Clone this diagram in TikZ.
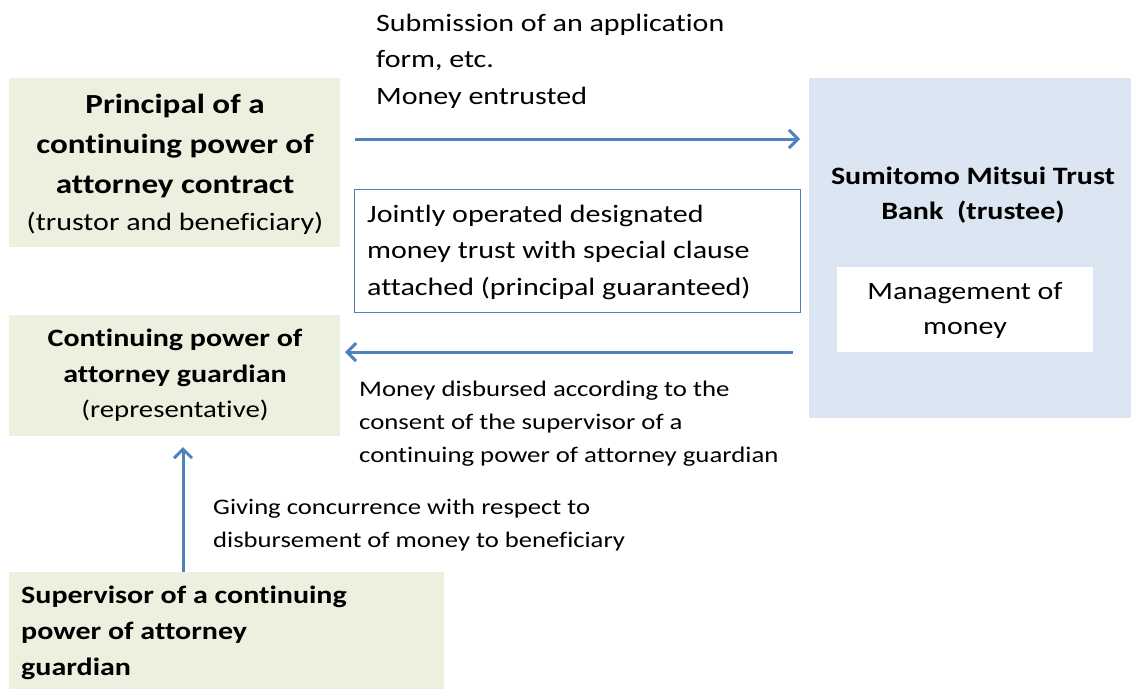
\documentclass[tikz,border=0pt]{standalone}
\usepackage{fontspec}
\setmainfont{Carlito}[FakeStretch=1.2, Ligatures={NoCommon}]
\usetikzlibrary{arrows.meta}
\definecolor{greenbg}{HTML}{EBF1DE}
\definecolor{bluebg}{HTML}{DCE6F2}
\definecolor{arrowblue}{HTML}{4F81BD}
\tikzset{
  greenbox/.style={fill=greenbg, draw=none, anchor=north west, inner sep=0pt},
  bluebox/.style={fill=bluebg, draw=none, anchor=north west, inner sep=0pt},
  whitebox/.style={fill=white, draw=none, anchor=north west, inner sep=0pt},
  framebox/.style={fill=white, draw=arrowblue, line width=1.2pt, anchor=north west, inner sep=0pt},
  flow/.style={draw=arrowblue, line width=3pt, -{Straight Barb[length=9pt,width=18pt,line width=3pt]}},
  txt/.style={inner sep=0pt, text=black},
}
\begin{document}
\begin{tikzpicture}[x=1pt,y=-1pt]
\useasboundingbox (0,0) rectangle (1131,688);
% boxes
\node[greenbox, minimum width=331pt, minimum height=169pt] (princ) at (9,78) {};
\node[greenbox, minimum width=331pt, minimum height=121pt] (guard) at (9,315) {};
\node[greenbox, minimum width=435pt, minimum height=120pt] (sup) at (9,572) {};
\node[bluebox, minimum width=322pt, minimum height=340pt] (bank) at (809,78) {};
\node[whitebox, minimum width=256pt, minimum height=85pt] (mgmt) at (837,267) {};
\node[framebox, minimum width=446pt, minimum height=123pt] (joint) at (354,189) {};
% texts
\node[txt, align=center, font=\fontsize{27.6}{40}\selectfont\bfseries] (princt) at (175,146)
  {Principal of a\\continuing power of\\attorney contract};
\node[txt, font=\fontsize{25}{30}\selectfont] (princs) at (175,223) {(trustor and beneficiary)};
\node[txt, align=center, font=\fontsize{25}{36}\selectfont\bfseries] (guardt) at (175,358)
  {Continuing power of\\attorney guardian};
\node[txt, font=\fontsize{24}{30}\selectfont] (guards) at (175,411) {(representative)};
\node[txt, align=left, anchor=west, font=\fontsize{25}{36}\selectfont\bfseries] (supt) at (21,633)
  {Supervisor of a continuing\\power of attorney\\guardian};
\node[txt, align=center, font=\fontsize{25}{35}\selectfont\bfseries] (bankt) at (973,195)
  {Sumitomo Mitsui Trust\\Bank\ \ (trustee)};
\node[txt, align=center, font=\fontsize{25}{35}\selectfont] (mgmtt) at (965,310)
  {Management of\\money};
\node[txt, align=left, anchor=west, font=\fontsize{25}{36.5}\selectfont] (jointt) at (367,252)
  {Jointly operated designated\\money trust with special clause\\attached (principal guaranteed)};
\node[txt, align=left, anchor=west, font=\fontsize{25}{36.5}\selectfont] (subt) at (376,61)
  {Submission of an application\\form, etc.\\Money entrusted};
\node[txt, align=left, anchor=west, font=\fontsize{22.3}{33}\selectfont] (disbt) at (359,424)
  {Money disbursed according to the\\consent of the supervisor of a\\continuing power of attorney guardian};
\node[txt, align=left, anchor=west, font=\fontsize{22.2}{33}\selectfont] (givt) at (213,525)
  {Giving concurrence with respect to\\disbursement of money to beneficiary};
% connectors
\coordinate (a1s) at (355,139);
\coordinate (a1e) at (800,139);
\coordinate (a2s) at (793,352);
\coordinate (a2e) at (345,352);
\coordinate (a3s) at (183,572);
\coordinate (a3e) at (183,447);
\draw[flow] (a1s) -- (a1e);
\draw[flow] (a2s) -- (a2e);
\draw[flow] (a3s) -- (a3e);
\end{tikzpicture}
\end{document}
